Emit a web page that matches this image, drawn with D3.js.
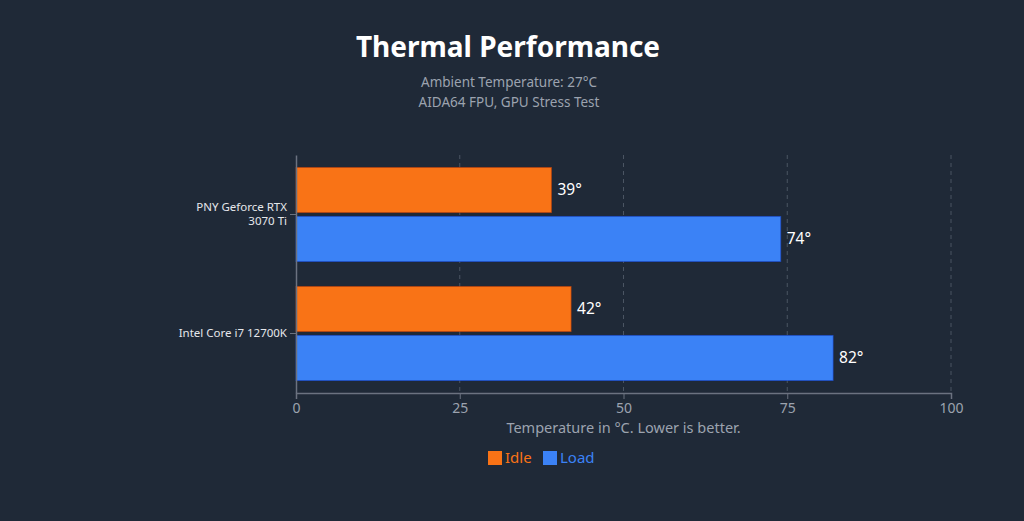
<!DOCTYPE html>
<html><head><meta charset="utf-8">
<script src="https://cdn.jsdelivr.net/npm/d3@7/dist/d3.min.js"></script>
<style>
html,body{margin:0;padding:0;background:#1f2937;}
svg{display:block;}
text{font-family:"Noto Sans","Open Sans",sans-serif;}
</style></head>
<body><svg id="chart" width="1024" height="521"></svg>
<script>
const categories = ["PNY Geforce RTX 3070 Ti", "Intel Core i7 12700K"];
const categoryLines = [["PNY Geforce RTX", "3070 Ti"], ["Intel Core i7 12700K"]];
const seriesNames = ["Idle", "Load"];
const idleValues = [39, 42];
const loadValues = [74, 82];
const xTicks = [0, 25, 50, 75, 100];
const colors = ["#f97316", "#3b82f6"];
const strokes = ["#c2410c", "#1d4ed8"];

const svg = d3.select("#chart");
const W = 1024, H = 521;
svg.append("rect").attr("width", W).attr("height", H).attr("fill", "#1f2937");

const m = {left: 296, right: 1024 - 951, top: 155, bottom: 521 - 393};
const x = d3.scaleLinear().domain([0, 100]).range([m.left, W - m.right]);
const y0 = d3.scaleBand().domain(categories).range([m.top, H - m.bottom]).padding(0);
const y1 = d3.scaleBand().domain(seriesNames).range([0, y0.bandwidth()]).paddingInner(0.08).paddingOuter(0.255);

const seriesData = [idleValues, loadValues];

// title
svg.append("text").attr("x", 508).attr("y", 57).attr("text-anchor", "middle")
  .attr("fill", "#ffffff").attr("font-size", 28).attr("font-weight", "bold").text("Thermal Performance");
svg.append("text").attr("x", 509).attr("y", 87).attr("text-anchor", "middle")
  .attr("fill", "#9ca3af").attr("font-size", 13.5).text("Ambient Temperature: 27°C");
svg.append("text").attr("x", 509).attr("y", 107).attr("text-anchor", "middle")
  .attr("fill", "#9ca3af").attr("font-size", 13.5).text("AIDA64 FPU, GPU Stress Test");

// grid
svg.append("g").selectAll("line").data(xTicks.filter(d => d > 0)).join("line")
  .attr("x1", d => x(d)).attr("x2", d => x(d))
  .attr("y1", m.top).attr("y2", H - m.bottom)
  .attr("stroke", "#4b5563").attr("stroke-dasharray", "4,4").attr("stroke-width", 1);

// bars
const groups = svg.append("g").selectAll("g").data(categories).join("g")
  .attr("transform", d => `translate(0,${y0(d)})`);
groups.each(function(cat, ci) {
  const g = d3.select(this);
  seriesNames.forEach((s, si) => {
    const v = seriesData[si][ci];
    g.append("rect").attr("x", x(0)).attr("y", y1(s))
      .attr("width", x(v) - x(0)).attr("height", y1.bandwidth())
      .attr("fill", colors[si]).attr("stroke", strokes[si]).attr("stroke-width", 1)
      .attr("stroke-opacity", 0.6);
    g.append("text").attr("x", x(v) + 6).attr("y", y1(s) + y1.bandwidth() / 2)
      .attr("dy", "0.35em").attr("fill", "#ffffff").attr("font-size", 15.5).text(v + "°");
  });
});

// x axis
const xAxis = svg.append("g").attr("transform", `translate(0,${H - m.bottom})`)
  .call(d3.axisBottom(x).tickValues(xTicks).tickSize(6).tickPadding(4));
xAxis.select(".domain").attr("stroke", "#6b7280").attr("stroke-width", 1.5);
xAxis.selectAll(".tick line").attr("stroke", "#6b7280");
xAxis.selectAll(".tick text").attr("fill", "#9ca3af").attr("font-size", 14)
  .attr("font-family", '"Noto Sans","Open Sans",sans-serif');

// y axis
const yAxis = svg.append("g").attr("transform", `translate(${m.left},0)`)
  .call(d3.axisLeft(y0).tickSize(6).tickPadding(3).tickSizeOuter(0));
yAxis.select(".domain").attr("stroke", "#6b7280").attr("stroke-width", 1.5);
yAxis.selectAll(".tick line").attr("stroke", "#6b7280");
yAxis.selectAll(".tick text").each(function(d, i) {
  const t = d3.select(this).text(null).attr("fill", "#e5e7eb").attr("font-size", 11.5)
    .attr("font-family", '"Noto Sans","Open Sans",sans-serif');
  const lines = categoryLines[i];
  const n = lines.length;
  lines.forEach((ln, li) => {
    t.append("tspan").attr("x", -9).attr("dy", li === 0 ? ((0.32 - (n - 1) * 0.65) + "em") : "1.25em").text(ln);
  });
});

// axis title
svg.append("text").attr("x", x(50)).attr("y", 433).attr("text-anchor", "middle")
  .attr("fill", "#9ca3af").attr("font-size", 14.5).text("Temperature in °C. Lower is better.");

// legend
const legend = svg.append("g");
const legendX = [488, 543];
seriesNames.forEach((s, i) => {
  legend.append("rect").attr("x", legendX[i]).attr("y", 451).attr("width", 14).attr("height", 14).attr("fill", colors[i]);
  legend.append("text").attr("x", legendX[i] + 17).attr("y", 463).attr("fill", colors[i])
    .attr("font-size", 15).text(s);
});
</script></body></html>
